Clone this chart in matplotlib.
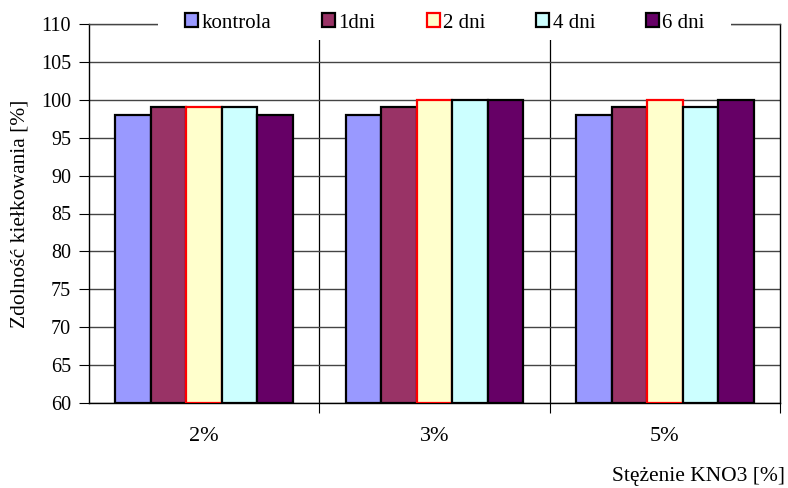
import numpy as np
import matplotlib.pyplot as plt
from matplotlib.patches import Rectangle

plt.rcParams['font.family'] = ['Liberation Serif', 'DejaVu Serif']

kategorie = ['2%', '3%', '5%']
serie = ['kontrola', '1dni', '2 dni', '4 dni', '6 dni']
kontrola = [98, 98, 98]
dni1 = [99, 99, 99]
dni2 = [99, 100, 100]
dni4 = [99, 100, 99]
dni6 = [98, 100, 100]
wartosci = [kontrola, dni1, dni2, dni4, dni6]

kolory = ['#9999FF', '#993366', '#FFFFCC', '#CCFFFF', '#660066']
krawedzie = ['black', 'black', 'red', 'black', 'black']

fig = plt.figure(figsize=(7.88, 4.88), dpi=100)
ax = fig.add_axes([89/788, 1-403/488, (780-89)/788, (403-24)/488])

x = np.arange(len(kategorie))
w = 0.154
for i, (vals, c, e) in enumerate(zip(wartosci, kolory, krawedzie)):
    ax.bar(x + (i-2)*w, np.array(vals) - 60, bottom=60, width=w, color=c,
           edgecolor=e, linewidth=1.6, label=serie[i], zorder=3)

ax.set_xlim(-0.5, 2.5)
ax.set_ylim(60, 110)
ax.set_yticks(np.arange(60, 111, 5))
ax.yaxis.grid(True, color='#444444', linewidth=1.0, zorder=0)
for xb in [0.5, 1.5]:
    ax.axvline(xb, color='black', linewidth=0.9, zorder=1)

ax.set_xticks([0.5, 1.5, 2.5])
ax.set_xticklabels([])
ax.set_xticks(x, minor=True)
ax.set_xticklabels(kategorie, minor=True, fontsize=16)
ax.tick_params(axis='x', which='minor', length=0, pad=17.5)
ax.tick_params(axis='x', which='major', length=7, direction='out', color='black')
ax.tick_params(axis='y', labelsize=14.5, length=7, direction='out', pad=6)

for s in ['left', 'bottom', 'top', 'right']:
    ax.spines[s].set_color('black')
    ax.spines[s].set_linewidth(1.0)
ax.spines['top'].set_color('#444444')

ax.set_ylabel('Zdolność kiełkowania [%]', fontsize=15.5, labelpad=8.5)
fig.text(785/788, 1-476/488, 'Stężenie KNO3 [%]', fontsize=15.5, ha='right', va='center')

# white band behind the legend, hiding the top line and separators
fig.patches.append(Rectangle((158/788, 1-40/488), (731-158)/788, 35/488,
                             transform=fig.transFigure, facecolor='white',
                             edgecolor='none', zorder=4))

uchwyty, etykiety = ax.get_legend_handles_labels()
leg = fig.legend(uchwyty, etykiety, ncol=5, loc='center',
                 bbox_to_anchor=(445/788, 1-23/488), frameon=False, fontsize=15,
                 handlelength=0.63, handleheight=0.63, handletextpad=0.15,
                 columnspacing=2.45, borderpad=0.2)
leg.set_zorder(5)

fig.savefig('out.png', dpi=100)
